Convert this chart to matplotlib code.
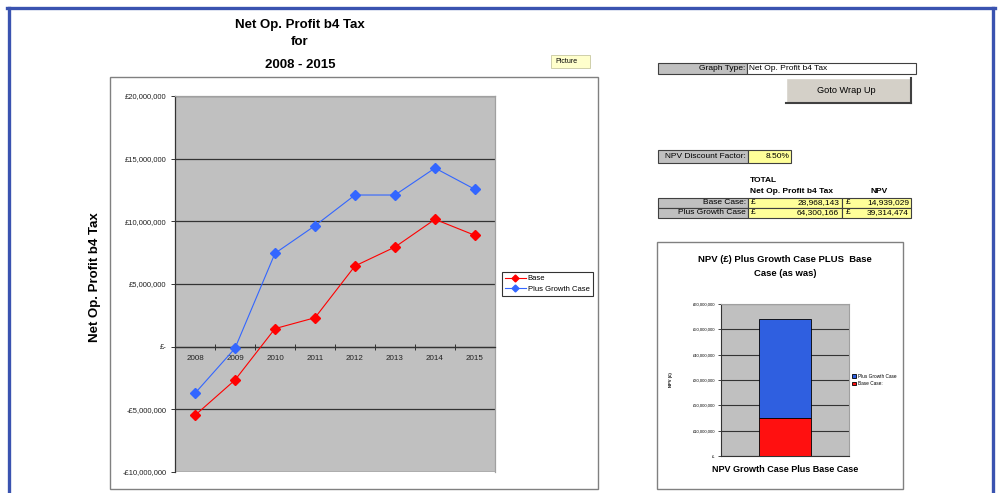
import numpy as np
import matplotlib
matplotlib.use("Agg")
import matplotlib.pyplot as plt
import matplotlib.patches as mpatches
from matplotlib.lines import Line2D
from matplotlib.ticker import FuncFormatter

plt.rcParams["font.family"] = ["Liberation Sans", "DejaVu Sans"]

# ---- data (£ millions for the line chart) -----------------------------------
years = ["2008", "2009", "2010", "2011", "2012", "2013", "2014", "2015"]
base_case = [-5.48, -2.66, 1.44, 2.31, 6.44, 7.95, 10.16, 8.88]
growth_case = [-3.72, -0.13, 7.45, 9.65, 12.10, 12.10, 14.25, 12.55]

case_names = ["Base Case:", "Plus Growth Case"]
total_profit = [28968143, 64300166]
npv_values = [14939029, 39314474]
discount_factor = "8.50%"
graph_type = "Net Op. Profit b4 Tax"

# ---- layout helpers (pixel coords, origin top-left) -------------------------
W, H = 1001, 493
fig = plt.figure(figsize=(W / 100, H / 100), dpi=100)
fig.patch.set_facecolor("white")


def fbox(x0, y0, x1, y1):
    return [x0 / W, 1 - y1 / H, (x1 - x0) / W, (y1 - y0) / H]


def rect(x0, y0, x1, y1, fc, ec="#404040", lw=0.8, z=1):
    fig.add_artist(mpatches.Rectangle((x0 / W, 1 - y1 / H), (x1 - x0) / W, (y1 - y0) / H,
                                      transform=fig.transFigure, facecolor=fc,
                                      edgecolor=ec, linewidth=lw, zorder=z))


def line(xs, ys, c, lw, z=2):
    fig.add_artist(Line2D([x / W for x in xs], [1 - y / H for y in ys],
                          transform=fig.transFigure, color=c, linewidth=lw, zorder=z))


def txt(x, y, s, **kw):
    kw.setdefault("va", "center")
    fig.text(x / W, 1 - y / H, s, **kw)


def gbp(v, _):
    if abs(v) < 1e-9:
        return "£-"
    sign = "-" if v < 0 else ""
    return f"{sign}£{abs(v) * 1e6:,.0f}"


# ---- blue window frame ------------------------------------------------------
frame = "#3a53b0"
line([8.5, 8.5], [493, 7.5], frame, 2.4)
line([7, 994.5], [7.5, 7.5], frame, 2.4)
line([993, 993], [7.5, 493], frame, 2.4)

# ---- main line chart --------------------------------------------------------
txt(300, 25, "Net Op. Profit b4 Tax", ha="center", fontsize=9.5, fontweight="bold")
txt(300, 42, "for", ha="center", fontsize=9.5, fontweight="bold")
txt(300, 65, "2008 - 2015", ha="center", fontsize=9.5, fontweight="bold")

rect(551, 55, 590, 68, "#ffffcc", ec="#c8c8a0", lw=0.6)
txt(555, 61.5, "Picture", ha="left", fontsize=5)

rect(110, 77, 598, 489, "white", ec="#808080", lw=1.0, z=-1)
txt(95, 277, "Net Op. Profit b4 Tax", ha="center", rotation=90,
    fontsize=9.5, fontweight="bold")

ax = fig.add_axes(fbox(175, 96, 495, 472))
ax.set_facecolor("#c0c0c0")
x = np.arange(len(years))
ax.plot(x, base_case, color="#ff0000", lw=0.8, marker="D", ms=5.5, label="Base", zorder=3)
ax.plot(x, growth_case, color="#3366ff", lw=0.8, marker="D", ms=5.5,
        label="Plus Growth Case", zorder=3)
ax.set_xlim(-0.5, len(years) - 0.5)
ax.set_ylim(-10, 20)
ax.set_yticks(np.arange(-10, 21, 5))
ax.yaxis.set_major_formatter(FuncFormatter(gbp))
ax.tick_params(axis="y", labelsize=5.5, length=3, width=0.7, color="#333333",
               labelcolor="#222222", pad=3)
ax.yaxis.grid(True, color="#333333", lw=0.9)
ax.set_axisbelow(True)
ax.set_xticks(np.arange(-0.5, len(years), 1))
ax.set_xticklabels([])
ax.set_xticks(x, minor=True)
ax.set_xticklabels(years, minor=True)
ax.tick_params(axis="x", which="major", direction="inout", length=4, width=0.7, color="#333333")
ax.tick_params(axis="x", which="minor", length=0, labelsize=5.8, pad=6, labelcolor="#222222")
ax.spines["bottom"].set_position(("data", 0))
for s in ("bottom", "left"):
    ax.spines[s].set_color("#333333")
    ax.spines[s].set_linewidth(0.9)
for s in ("top", "right"):
    ax.spines[s].set_color("#a0a0a0")
    ax.spines[s].set_linewidth(0.9)

leg = ax.legend(loc="center left", bbox_to_anchor=(502 / W, 1 - 284 / H),
                bbox_transform=fig.transFigure, fontsize=5.5, frameon=True,
                fancybox=False, edgecolor="black", handlelength=2.7,
                borderpad=0.4, labelspacing=0.4, handletextpad=0.25,
                borderaxespad=0)
leg.get_frame().set_linewidth(0.8)
for h in leg.legend_handles:
    h.set_markersize(3.5)

# ---- right-hand panel -------------------------------------------------------
rect(658, 63, 747, 74, "#c0c0c0")
rect(747, 63, 916, 74, "white")
txt(745, 68.5, "Graph Type:", ha="right", fontsize=6)
txt(749, 68.5, graph_type, ha="left", fontsize=6)

rect(786, 78, 911, 103, "#d4d0c8", ec="none")
line([786, 911], [78, 78], "white", 1.0)
line([786, 786], [78, 103], "white", 1.0)
line([786, 911], [103, 103], "#404040", 1.5)
line([911, 911], [78, 103], "#404040", 1.5)
txt(846, 90.5, "Goto Wrap Up", ha="center", fontsize=6.6)

rect(658, 150, 748, 163, "#c0c0c0")
rect(748, 150, 791, 163, "#ffff99")
txt(746, 156.5, "NPV Discount Factor:", ha="right", fontsize=6)
txt(789, 156.5, discount_factor, ha="right", fontsize=6)

txt(750, 181, "TOTAL", ha="left", fontsize=6, fontweight="bold")
txt(750, 191.5, "Net Op. Profit b4 Tax", ha="left", fontsize=6, fontweight="bold")
txt(879, 191.5, "NPV", ha="center", fontsize=6, fontweight="bold")

row_top = [198, 208]
for name, tot, npv, y0 in zip(case_names, total_profit, npv_values, row_top):
    y1 = y0 + 10
    rect(658, y0, 748, y1, "#c0c0c0")
    rect(748, y0, 842, y1, "#ffff99")
    rect(842, y0, 911, y1, "#ffff99")
    ym = (y0 + y1) / 2
    txt(746, ym, name, ha="right", fontsize=6)
    txt(751, ym, "£", ha="left", fontsize=6)
    txt(839, ym, f"{tot:,}", ha="right", fontsize=6)
    txt(846, ym, "£", ha="left", fontsize=6)
    txt(909, ym, f"{npv:,}", ha="right", fontsize=6)

# ---- NPV stacked bar chart --------------------------------------------------
rect(657, 242, 903, 489, "white", ec="#808080", lw=1.0, z=-1)
txt(785, 260, "NPV (£) Plus Growth Case PLUS  Base", ha="center", fontsize=6.8, fontweight="bold")
txt(785, 273.5, "Case (as was)", ha="center", fontsize=6.8, fontweight="bold")
txt(785, 469, "NPV Growth Case Plus Base Case", ha="center", fontsize=6.5, fontweight="bold")
txt(671, 380, "NPV (£)", ha="center", rotation=90, fontsize=3, fontweight="bold")

ax2 = fig.add_axes(fbox(721, 304, 849, 456))
ax2.set_facecolor("#c0c0c0")
base_m = npv_values[0] / 1e6
growth_m = npv_values[1] / 1e6
ax2.bar(0, growth_m, width=0.4, bottom=base_m, color="#2f5fe0", edgecolor="black",
        lw=0.6, label=case_names[1], zorder=3)
ax2.bar(0, base_m, width=0.4, color="#ff1010", edgecolor="black", lw=0.6,
        label=case_names[0], zorder=3)
ax2.set_xlim(-0.5, 0.5)
ax2.set_ylim(0, 60)
ax2.set_yticks(np.arange(0, 61, 10))
ax2.yaxis.set_major_formatter(FuncFormatter(gbp))
ax2.set_xticks([])
ax2.tick_params(axis="y", labelsize=3, length=2, width=0.5, pad=2)
ax2.yaxis.grid(True, color="#333333", lw=0.8)
ax2.set_axisbelow(True)
for s in ("bottom", "left"):
    ax2.spines[s].set_color("#333333")
    ax2.spines[s].set_linewidth(0.8)
for s in ("top", "right"):
    ax2.spines[s].set_color("#a0a0a0")
    ax2.spines[s].set_linewidth(0.8)
leg2 = ax2.legend(loc="center left", bbox_to_anchor=(849 / W, 1 - 380 / H),
                  bbox_transform=fig.transFigure, fontsize=3.4, frameon=False,
                  handlelength=0.8, handleheight=0.8, handletextpad=0.4,
                  labelspacing=0.5, borderpad=0.2)

fig.savefig("out.png", dpi=100, facecolor="white")
